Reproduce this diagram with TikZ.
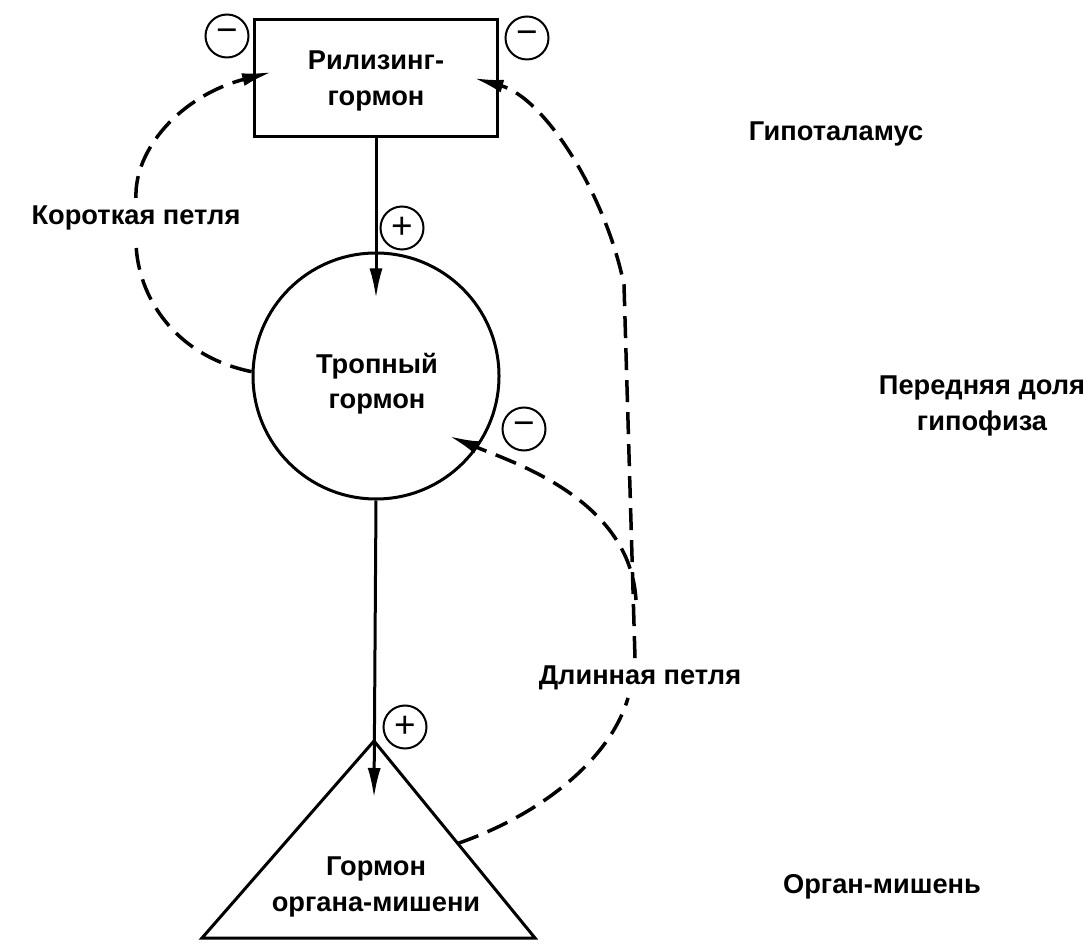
\documentclass[tikz,border=0pt]{standalone}
\usepackage{fontspec}
\setmainfont{Liberation Sans}
\usepackage{tikz}
\usetikzlibrary{positioning}
\usetikzlibrary{arrows.meta}

\begin{document}
\begin{tikzpicture}[x=0.2mm, y=-0.2mm,
  txt/.style={font=\fontsize{15.5}{20}\selectfont\bfseries, align=center},
  sgn/.style={draw, circle, line width=0.4mm, minimum size=8.6mm, inner sep=0pt, font=\fontsize{21}{21}\selectfont},
  ln/.style={line width=0.6mm},
  dln/.style={line width=0.7mm, dash pattern=on 4.4mm off 2mm},
  arr/.style={-{Latex[length=6mm,width=2.6mm]}}]

\useasboundingbox (0,0) rectangle (1085,950);

%\draw[gray,very thin, step=50, opacity=0.5] (0,0) grid (1085,950);

% shapes
\node[draw, ln, txt, minimum width=48.6mm, minimum height=23.4mm, inner sep=0pt] (rel) at (376,78) {};
\node[txt, inner sep=0pt] (reltxt) at (376,81) {Рилизинг-\\гормон};
\node[draw, ln, circle, minimum size=49.2mm, inner sep=0pt] (trop) at (376,376) {};
\node[txt, inner sep=0pt] (troptxt) at (377,384) {Тропный\\гормон};

\coordinate (apex) at (374,741);
\coordinate (blc) at (202,938);
\coordinate (brc) at (535,938);
\draw[ln, line join=miter] (blc) -- (apex) -- coordinate[pos=0.52] (trR) (brc) -- cycle;
\node[txt, inner sep=0pt] (org) at (376,887) {Гормон\\органа-мишени};

% level labels
\node[txt, inner sep=0pt] (hyp) at (836,134) {Гипоталамус};
\node[txt, inner sep=0pt] (adh) at (982,406) {Передняя доля\\гипофиза};
\node[txt, inner sep=0pt] (tgt) at (882,887) {Орган-мишень};

% loop labels
\node[txt, inner sep=1.5mm] (shl) at (136,218) {Короткая петля};
\node[txt, inner sep=1.5mm] (dl) at (640,678) {Длинная петля};

% arrow ends
\coordinate (rinL) at ([xshift=3.8mm, yshift=1.2mm]rel.west);
\coordinate (rinR) at ([xshift=-5.1mm]rel.east);
\coordinate (inC) at ([shift={(14.6mm,-12mm)}]trop.center);
\coordinate (jn) at (636,600);

% solid
\draw[ln, arr] (rel.south) -- ([yshift=-9.4mm]trop.north);
\draw[ln, arr] (trop.south) -- ([yshift=-11.4mm]apex);

% short loop
\draw[dln] (trop.178) .. controls (170,355) and (135,290) .. (shl.south);
\draw[dln, arr] (shl.north) .. controls (134,150) and (180,96) .. (rinL);

% long loop
\draw[dln] (trR) .. controls (540,815) and (610,760) .. ([xshift=-2.4mm]dl.south);
\draw[dln, arr] ([xshift=-1mm]dl.north) -- (624,285) .. controls (606,195) and (545,98) .. (rinR);
\draw[dln, arr] (jn) .. controls (630,500) and (515,463) .. (inC);

% signs
\node[sgn] (m1) at (227,36) {−};
\node[sgn] (m2) at (527,38) {−};
\node[sgn] (p1) at (402,228) {+};
\node[sgn] (m3) at (524,429) {−};
\node[sgn] (p2) at (405,727) {+};

\end{tikzpicture}
\end{document}
